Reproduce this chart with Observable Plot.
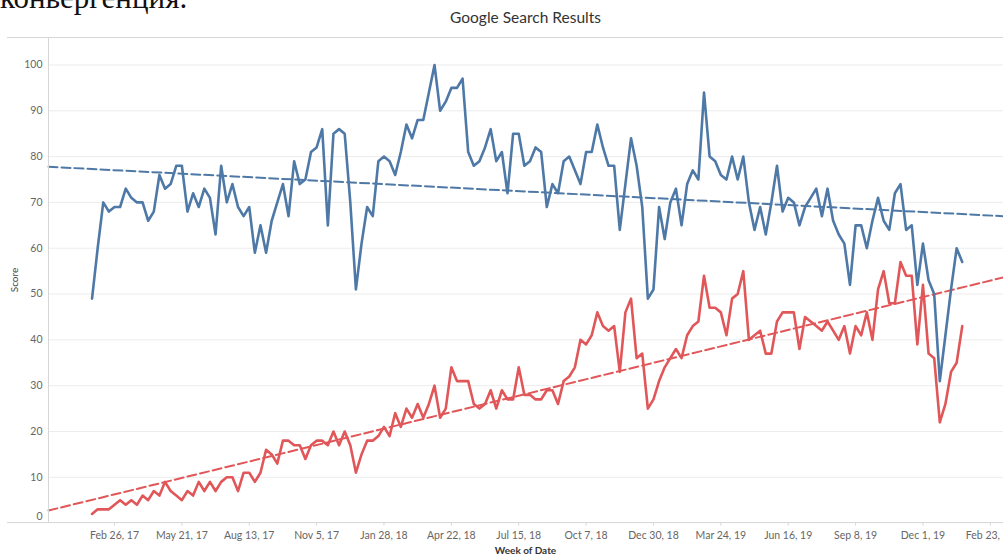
<!DOCTYPE html>
<html>
<head>
<meta charset="utf-8">
<script src="https://cdn.jsdelivr.net/npm/d3@7"></script>
<script src="https://cdn.jsdelivr.net/npm/@observablehq/plot@0.6"></script>
<style>
  html, body { margin: 0; padding: 0; width: 1003px; height: 556px; overflow: hidden; background: #fff; }
  #wrap { position: relative; width: 1003px; height: 556px; overflow: hidden; }
  #ru { position: absolute; left: 0px; top: -20px; font-family: "Liberation Serif", "DejaVu Serif", serif; font-size: 31px; color: #111; white-space: nowrap; }
  #title { position: absolute; left: 48px; width: 955px; top: 8px; text-align: center; font-family: Lato, "Open Sans", sans-serif; font-size: 15.5px; color: #333; }
  #ylab { position: absolute; left: 14px; top: 280px; transform: translate(-50%, -50%) rotate(-90deg); font-family: Lato, sans-serif; font-size: 10px; color: #444; }
  #xlab { position: absolute; left: 48px; width: 955px; top: 544px; text-align: center; font-family: Lato, sans-serif; font-size: 10px; font-weight: bold; color: #333; }
  #chart { position: absolute; left: 0; top: 0; }
</style>
</head>
<body>
<div id="wrap">
  <div id="ru">конвергенция.</div>
  <div id="chart"></div>
  <div id="title">Google Search Results</div>
  <div id="ylab">Score</div>
  <div id="xlab">Week of Date</div>
</div>
<script>
// ---- data ----
const firstWeek = "2017-01-29"; // weekly (Sunday) series start
const seriesNames = ["Term A", "Term B"];
const seriesColors = ["#4e79a7", "#e15759"];
const termA = [
  49, 60, 70, 68, 69, 69, 73, 71, 70, 70,
  66, 68, 76, 73, 74, 78, 78, 68, 72, 69,
  73, 71, 63, 78, 70, 74, 69, 67, 69, 59,
  65, 59, 66, 70, 74, 67, 79, 74, 75, 81,
  82, 86, 65, 85, 86, 85, 70, 51, 61, 69,
  67, 79, 80, 79, 76, 81, 87, 84, 88, 88,
  94, 100, 90, 92, 95, 95, 97, 81, 78, 79,
  82, 86, 79, 81, 72, 85, 85, 78, 79, 82,
  81, 69, 74, 72, 79, 80, 77, 74, 81, 81,
  87, 82, 78, 78, 64, 74, 84, 78, 69, 49,
  51, 69, 62, 70, 73, 65, 74, 77, 75, 94,
  80, 79, 76, 75, 80, 75, 80, 70, 64, 69,
  63, 70, 78, 68, 71, 70, 65, 69, 71, 73,
  67, 73, 66, 63, 61, 52, 65, 65, 60, 66,
  71, 66, 64, 72, 74, 64, 65, 52, 61, 53,
  50, 31, 41, 51, 60, 57
];
const termB = [
  2, 3, 3, 3, 4, 5, 4, 5, 4, 6,
  5, 7, 6, 9, 7, 6, 5, 7, 6, 9,
  7, 9, 7, 9, 10, 10, 7, 11, 11, 9,
  11, 16, 15, 13, 18, 18, 17, 17, 14, 17,
  18, 18, 17, 20, 17, 20, 17, 11, 15, 18,
  18, 19, 21, 19, 24, 21, 25, 23, 26, 23,
  26, 30, 23, 25, 34, 31, 31, 31, 26, 25,
  26, 29, 25, 29, 27, 27, 34, 28, 28, 27,
  27, 29, 29, 26, 31, 32, 34, 40, 39, 41,
  46, 43, 42, 43, 33, 46, 49, 36, 37, 25,
  27, 31, 34, 36, 38, 36, 41, 43, 44, 54,
  47, 47, 46, 41, 49, 50, 55, 40, 41, 42,
  37, 37, 44, 46, 46, 46, 38, 45, 44, 43,
  42, 44, 42, 40, 43, 37, 43, 41, 46, 40,
  51, 55, 48, 48, 57, 54, 54, 39, 52, 37,
  36, 22, 26, 33, 35, 43
];
const xTickDates = ["2017-02-26","2017-05-21","2017-08-13","2017-11-05","2018-01-28","2018-04-22",
  "2018-07-15","2018-10-07","2018-12-30","2019-03-24","2019-06-16","2019-09-08","2019-12-01","2020-02-23"];
const yTicks = [0, 10, 20, 30, 40, 50, 60, 70, 80, 90, 100];
const xDomain = ["2016-12-05T17:00:00Z", "2020-03-10T10:00:00Z"];

// ---- build table ----
const start = new Date(firstWeek + "T00:00:00Z");
const weekOf = i => d3.utcDay.offset(start, 7 * i);
const rows = [];
[termA, termB].forEach((vals, s) => vals.forEach((v, i) => rows.push({week: weekOf(i), score: v, term: seriesNames[s]})));

const xd = xDomain.map(d => new Date(d));
function trend(vals, name) {
  const xs = vals.map((_, i) => +weekOf(i));
  const mx = d3.mean(xs), my = d3.mean(vals);
  let sxy = 0, sxx = 0;
  xs.forEach((x, i) => { sxy += (x - mx) * (vals[i] - my); sxx += (x - mx) ** 2; });
  const b = sxy / sxx, a = my - b * mx;
  return xd.map(d => ({week: d, score: a + b * (+d), term: name}));
}
const trends = [...trend(termA, seriesNames[0]), ...trend(termB, seriesNames[1])];

const fmt = d3.utcFormat("%b %-d, %y");
const plot = Plot.plot({
  width: 1003,
  height: 556,
  marginLeft: 48,
  marginRight: 0,
  marginTop: 37,
  marginBottom: 33.4,
  style: {fontFamily: "Lato, 'Open Sans', sans-serif", fontSize: "10.5px", color: "#666", background: "transparent"},
  x: {type: "utc", domain: xd},
  y: {domain: [0, 106]},
  color: {domain: seriesNames, range: seriesColors},
  marks: [
    Plot.gridY(yTicks.filter(v => v > 0), {stroke: "#ececec", strokeOpacity: 1, strokeWidth: 1}),
    Plot.axisY(yTicks.filter(v => v > 0), {tickSize: 0, tickPadding: 6, label: null, fill: "#666"}),
    Plot.axisY([0], {tickSize: 0, tickPadding: 6, dy: -6, label: null, fill: "#666"}),
    Plot.axisX(xTickDates.map(d => new Date(d + "T00:00:00Z")), {tickSize: 3, tickPadding: 5, tickFormat: fmt, label: null, stroke: "#d8d8d8", fill: "#666"}),
    Plot.line(trends, {x: "week", y: "score", z: "term", stroke: "term", strokeWidth: 2, strokeDasharray: "9,4"}),
    Plot.line(rows, {x: "week", y: "score", z: "term", stroke: "term", strokeWidth: 2.6, strokeLinejoin: "round", strokeLinecap: "round"})
  ]
});
document.getElementById("chart").appendChild(plot);

// pane borders
const yScale = plot.scale("y"), xScale = plot.scale("x");
const paneTop = Math.min(...yScale.range), paneBot = Math.max(...yScale.range), paneLeft = Math.min(...xScale.range);
const svgSel = d3.select(plot);
const borders = svgSel.append("g").attr("stroke", "#d6d6d6").attr("stroke-width", 1);
borders.append("line").attr("x1", 7).attr("x2", 1003).attr("y1", paneTop + 0.5).attr("y2", paneTop + 0.5);
borders.append("line").attr("x1", 7).attr("x2", 1003).attr("y1", paneBot).attr("y2", paneBot);
borders.append("line").attr("x1", paneLeft + 0.5).attr("x2", paneLeft + 0.5).attr("y1", paneTop).attr("y2", paneBot);
</script>
</body>
</html>
